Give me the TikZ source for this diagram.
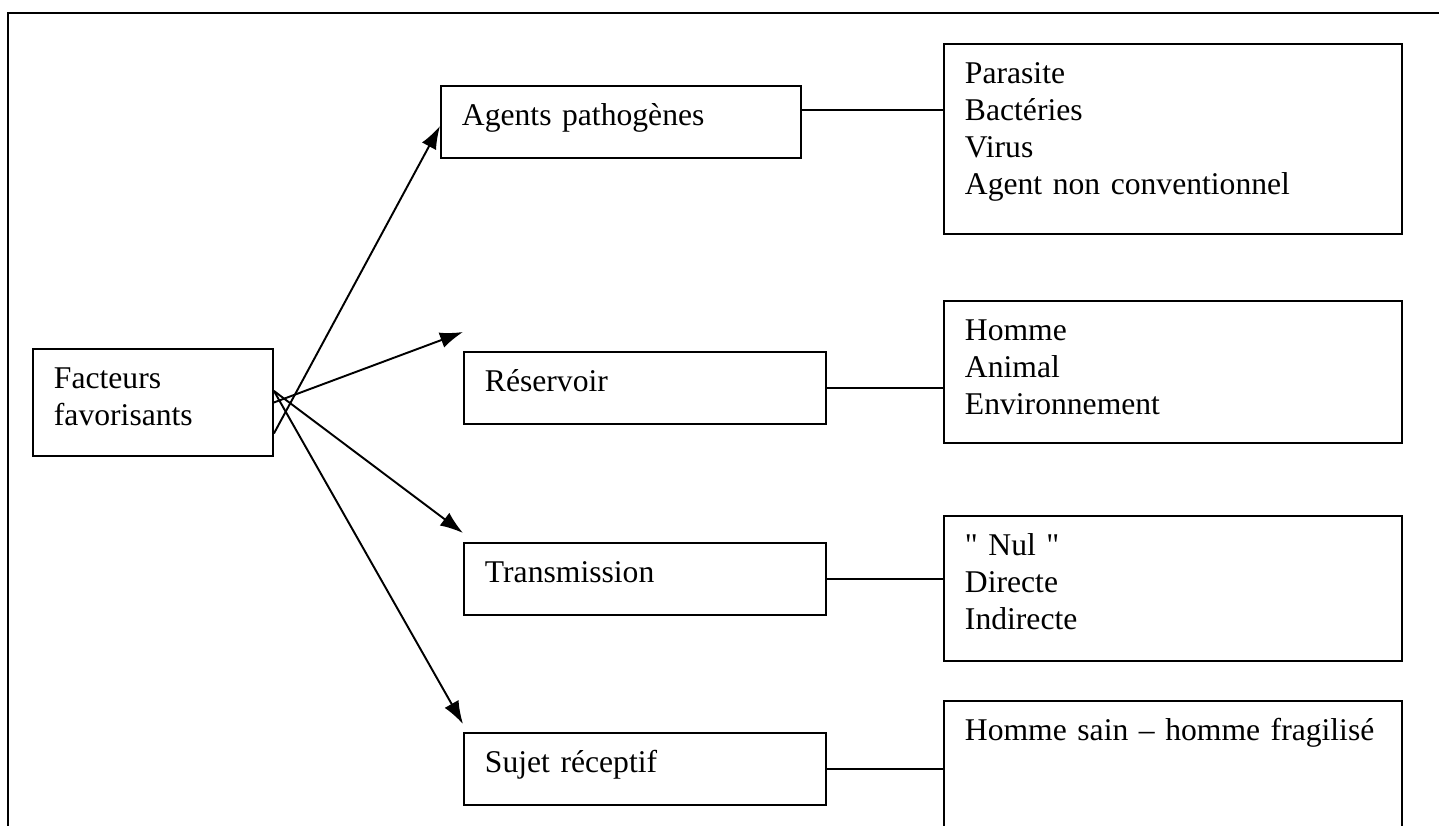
\documentclass[tikz,border=0pt]{standalone}
\usepackage{fontspec}
\setmainfont{Liberation Serif}
\usetikzlibrary{arrows.meta}
\tikzset{
    node style box/.style 2 args={draw,rectangle,anchor=north west,align=left,%
        inner xsep=0.42cm,inner ysep=0pt,text height=0.8cm,text width=#1,text depth=#2},
    arrow style link/.style={->},
}

\begin{document}
\begin{tikzpicture}[>={Latex[length=0.46cm,width=0.32cm]},line width=1.1pt,font=\fontsize{18}{21}\selectfont]

\clip (0,0) rectangle (28.78,-16.52);
\draw [line width=1.4pt] (0.16,-16.8)--(0.16,-0.26)--(29,-0.26);

\node [node style box={3.96cm}{1.34cm}] (facteurs) at (0.64,-6.96) {Facteurs\\favorisants};

\node [node style box={6.36cm}{0.64cm}] (agents) at (8.8,-1.7) {Agents pathogènes};
\node [node style box={6.40cm}{0.64cm}] (reservoir) at (9.26,-7.02) {Réservoir};
\node [node style box={6.40cm}{0.64cm}] (transmission) at (9.26,-10.84) {Transmission};
\node [node style box={6.40cm}{0.64cm}] (sujet) at (9.26,-14.64) {Sujet réceptif};

\node [node style box={8.32cm}{3.0cm}] (listagents) at (18.86,-0.86)
      {Parasite\\Bactéries\\Virus\\Agent non conventionnel};
\node [node style box={8.32cm}{2.04cm}] (listreservoir) at (18.86,-6.0)
      {Homme\\Animal\\Environnement};
\node [node style box={8.32cm}{2.1cm}] (listtransmission) at (18.86,-10.3)
      {\textquotedbl{} Nul \textquotedbl\\Directe\\Indirecte};
\node [node style box={8.32cm}{2.4cm}] (listsujet) at (18.86,-14.0)
      {Homme sain -- homme fragilisé};

% arrows from the left box
\draw [arrow style link] ([yshift=-0.62cm]facteurs.east) -- ([yshift=-0.08cm]agents.west);
\draw [arrow style link] (facteurs.east) -- ([yshift=0.38cm]reservoir.north west);
\draw [arrow style link] ([yshift=0.23cm]facteurs.east) -- ([yshift=0.18cm]transmission.north west);
\draw [arrow style link] ([yshift=0.23cm]facteurs.east) -- ([yshift=0.16cm]sujet.north west);

% plain links to the lists
\coordinate (agentsout) at ([yshift=0.24cm]agents.east);
\draw (agentsout) -- (agentsout -| listagents.west);
\foreach \a in {reservoir,transmission,sujet}
  \draw (\a.east) -- (\a.east -| list\a.west);

\end{tikzpicture}
\end{document}
